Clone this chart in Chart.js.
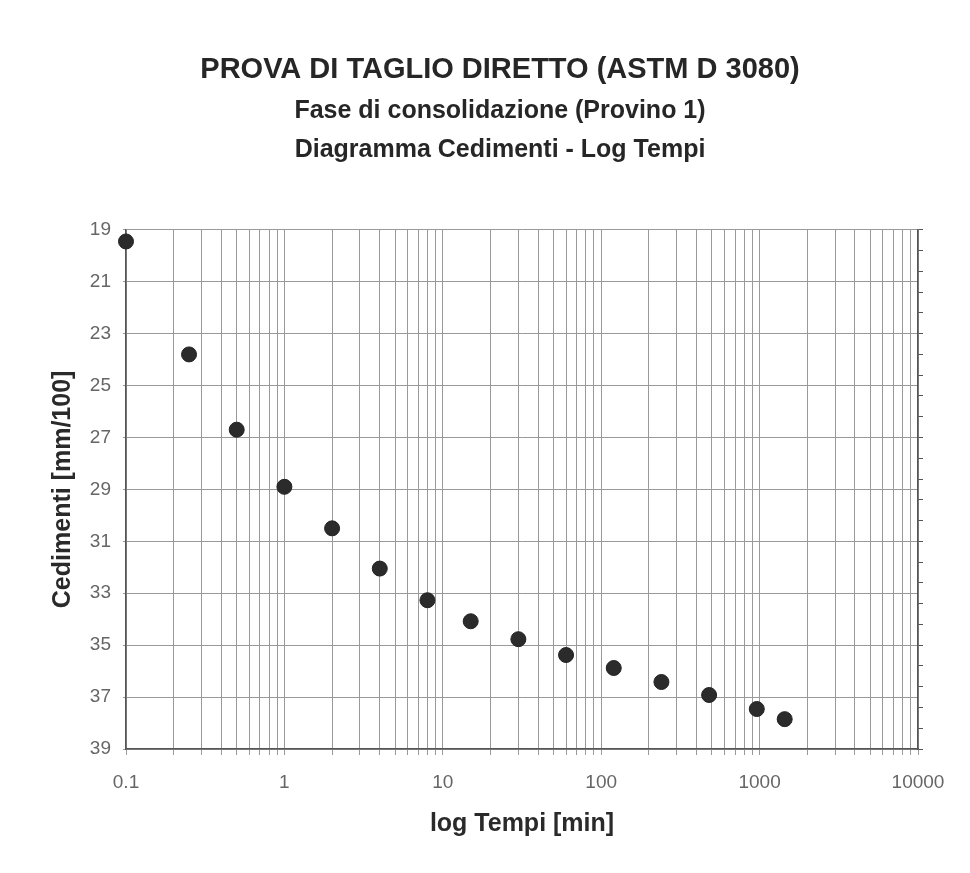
<!DOCTYPE html>
<html>
<head>
<meta charset="utf-8">
<script src="https://cdn.jsdelivr.net/npm/chart.js@4"></script>
<style>
  html, body { margin: 0; padding: 0; background: #fff; }
  #chart-container { width: 970px; height: 873px; }
</style>
</head>
<body>
<div id="chart-container"><canvas id="chart"></canvas></div>
<script>
// tempi [min] e cedimenti [mm/100]
const tempi = [0.1, 0.25, 0.5, 1, 2, 4, 8, 15, 30, 60, 120, 240, 480, 960, 1440];
const cedimenti = [19.45, 23.8, 26.7, 28.9, 30.5, 32.05, 33.27, 34.08, 34.77, 35.38, 35.88, 36.42, 36.92, 37.46, 37.85];
const xLabels = [0.1, 1, 10, 100, 1000, 10000];

const sans = '"Liberation Sans", Arial, sans-serif';

const ctx = document.getElementById('chart');

const chart = new Chart(ctx, {
  type: 'scatter',
  data: {
    datasets: [{
      data: tempi.map((t, i) => ({ x: t, y: cedimenti[i] })),
      backgroundColor: '#2b2b2b',
      borderColor: '#222',
      borderWidth: 1,
      pointRadius: 7.5,
      clip: false
    }]
  },
  options: {
    responsive: true,
    maintainAspectRatio: false,
    animation: false,
    layout: { padding: { left: 30, right: 0, top: 0, bottom: 0 } },
    plugins: {
      legend: { display: false },
      tooltip: { enabled: false },
      title: {
        display: true,
        text: 'PROVA DI TAGLIO DIRETTO (ASTM D 3080)',
        color: '#262626',
        font: { family: sans, size: 29, weight: 'bold', lineHeight: 1.2 },
        padding: { top: 53, bottom: 4 }
      },
      subtitle: {
        display: true,
        text: ['Fase di consolidazione (Provino 1)', 'Diagramma Cedimenti - Log Tempi'],
        color: '#262626',
        font: { family: sans, size: 25, weight: 'bold', lineHeight: 1.56 },
        padding: { top: 0, bottom: 60 }
      }
    },
    scales: {
      x: {
        type: 'logarithmic',
        min: 0.1,
        max: 10000,
        afterFit: s => { s.height = 124; },
        afterBuildTicks: s => {
          const t = [];
          for (let e = -1; e < 4; e++) {
            for (let m = 1; m < 10; m++) t.push({ value: m * Math.pow(10, e) });
          }
          t.push({ value: 10000 });
          s.ticks = t;
        },
        ticks: {
          autoSkip: false,
          maxRotation: 0,
          padding: 16,
          color: '#666',
          font: { family: sans, size: 19 },
          callback: v => xLabels.some(l => Math.abs(l - v) < 1e-9) ? String(v) : ''
        },
        grid: { color: '#9a9a9a', lineWidth: 1, tickLength: 6 },
        border: { color: '#555', width: 1.5 },
        title: {
          display: true,
          text: 'log Tempi [min]',
          color: '#2a2a2a',
          font: { family: sans, size: 25, weight: 'bold', lineHeight: 1.2 },
          padding: { top: 0, bottom: 34 }
        }
      },
      y: {
        reverse: true,
        min: 19,
        max: 39,
        afterFit: s => { s.width = 96; },
        ticks: {
          stepSize: 2,
          padding: 12,
          color: '#666',
          font: { family: sans, size: 19 }
        },
        grid: { color: '#9a9a9a', lineWidth: 1, tickLength: 3 },
        border: { color: '#555', width: 1.5 },
        title: {
          display: true,
          text: 'Cedimenti [mm/100]',
          color: '#2a2a2a',
          font: { family: sans, size: 25, weight: 'bold', lineHeight: 1.2 },
          padding: { top: 18, bottom: 0 }
        }
      },
      y2: {
        position: 'right',
        reverse: true,
        min: 19,
        max: 39,
        afterFit: s => { s.width = 52; },
        ticks: { stepSize: 0.4, callback: () => '', padding: 0 },
        grid: { drawOnChartArea: false, color: '#555', tickLength: 5 },
        border: { color: '#555', width: 1.5 }
      }
    }
  }
});
</script>
</body>
</html>
